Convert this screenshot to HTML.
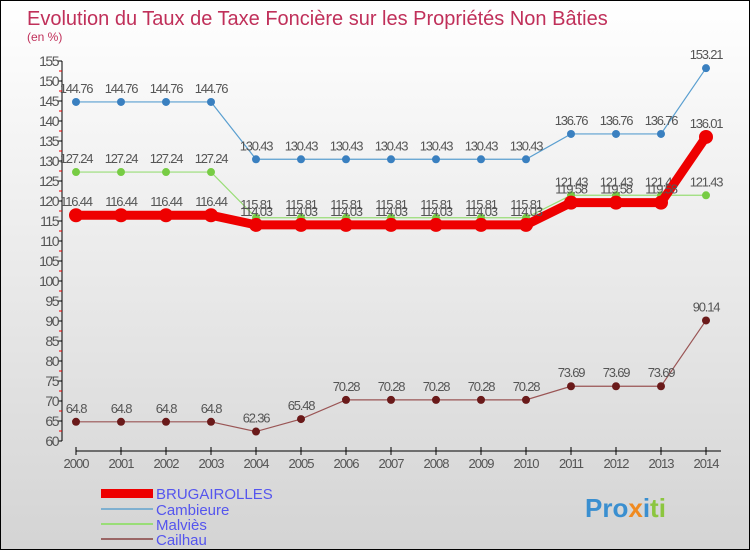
<!DOCTYPE html>
<html><head><meta charset="utf-8"><style>
body{margin:0}
#c{width:748px;height:548px;border:1px solid #000;background:linear-gradient(#fff,#d4d4d4);position:relative;font-family:"Liberation Sans",sans-serif;overflow:hidden}
</style></head><body>
<div id="c">
<svg id="s" width="748" height="548">
<text x="26" y="24" font-size="20" fill="#c0305a">Evolution du Taux de Taxe Foncière sur les Propriétés Non Bâties</text>
<text x="26" y="40" font-size="12" fill="#c0305a">(en %)</text>
<g id="axes"></g><g id="series"></g>
<g>
<rect x="100" y="488" width="52" height="9" fill="#e00"/>
<text x="155" y="498" font-size="15" fill="#5555ee">BRUGAIROLLES</text>
<rect x="100" y="507" width="52" height="2" fill="#7fb0d0"/>
<text x="155" y="514" font-size="15" fill="#5555ee">Cambieure</text>
<rect x="100" y="522" width="52" height="2" fill="#99dd77"/>
<text x="155" y="529" font-size="15" fill="#5555ee">Malviès</text>
<rect x="100" y="537" width="52" height="2" fill="#9a6666"/>
<text x="155" y="544" font-size="15" fill="#5555ee">Cailhau</text>
</g>
<text x="584" y="516" font-size="26" font-weight="bold"><tspan fill="#3a8fd0">Pro</tspan><tspan fill="#f08a20">x</tspan><tspan fill="#3a8fd0">i</tspan><tspan fill="#8cc63f">ti</tspan></text>
</svg></div>
<script>
const years=[2000,2001,2002,2003,2004,2005,2006,2007,2008,2009,2010,2011,2012,2013,2014];
const brugairolles=[116.44,116.44,116.44,116.44,114.03,114.03,114.03,114.03,114.03,114.03,114.03,119.58,119.58,119.58,136.01];
const cambieure=[144.76,144.76,144.76,144.76,130.43,130.43,130.43,130.43,130.43,130.43,130.43,136.76,136.76,136.76,153.21];
const malvies=[127.24,127.24,127.24,127.24,115.81,115.81,115.81,115.81,115.81,115.81,115.81,121.43,121.43,121.43,121.43];
const cailhau=[64.8,64.8,64.8,64.8,62.36,65.48,70.28,70.28,70.28,70.28,70.28,73.69,73.69,73.69,90.14];
const yTicks=[60,65,70,75,80,85,90,95,100,105,110,115,120,125,130,135,140,145,150,155];
const NS="http://www.w3.org/2000/svg";
const X=i=>75+i*45, Y=v=>440-(v-60)*4;
function mk(t,a,p){const e=document.createElementNS(NS,t);for(const k in a)e.setAttribute(k,a[k]);p.appendChild(e);return e;}
const ax=document.getElementById('axes'), sg=document.getElementById('series');
const yl=mk('line',{x1:61,y1:60,x2:61,y2:440,stroke:'#000'},ax);


yTicks.forEach(v=>{
 mk('line',{x1:57,y1:Y(v),x2:61,y2:Y(v),stroke:'#000'},ax);
 if(v<155)mk('line',{x1:58,y1:Y(v+2.5),x2:61,y2:Y(v+2.5),stroke:'#e00'},ax);
 const t=mk('text',{x:57,y:Y(v)+5,'text-anchor':'end','font-size':14,fill:'#555','letter-spacing':'-1.5'},ax);
 
 
 t.textContent=v;
});
const xl=mk('line',{x1:75,y1:450,x2:720,y2:450,stroke:'#000'},ax);


years.forEach((y,i)=>{
 mk('line',{x1:X(i),y1:446,x2:X(i),y2:454,stroke:'#000'},ax);
 const t=mk('text',{x:X(i),y:467,'text-anchor':'middle','font-size':13,fill:'#555','letter-spacing':'-1'},ax);
 
 
 t.textContent=y;
});
function series(name,vals,color,w,r,dot){
 const g=mk('g',{},sg);
 
 
 mk('polyline',{points:vals.map((v,i)=>X(i)+','+Y(v)).join(' '),fill:'none',stroke:color,'stroke-width':w},g);
 vals.forEach((v,i)=>{
  const c=mk('circle',{cx:X(i),cy:Y(v),r:r,fill:dot},g);
  
  
  const t=mk('text',{x:X(i),y:Y(v)-9,'text-anchor':'middle','font-size':13,fill:'#555','letter-spacing':'-1.2'},g);
  
  
  t.textContent=v;
 });
}
series('cambieure',cambieure,'#5a9fd0',1.2,4,'#3a80c0');
series('malvies',malvies,'#99dd77',1.2,4,'#77cc44');
series('cailhau',cailhau,'#9a5555',1.2,4,'#6a1a1a');
series('brugairolles',brugairolles,'#ee0000',9,7,'#ee0000');
</script>
</body></html>
